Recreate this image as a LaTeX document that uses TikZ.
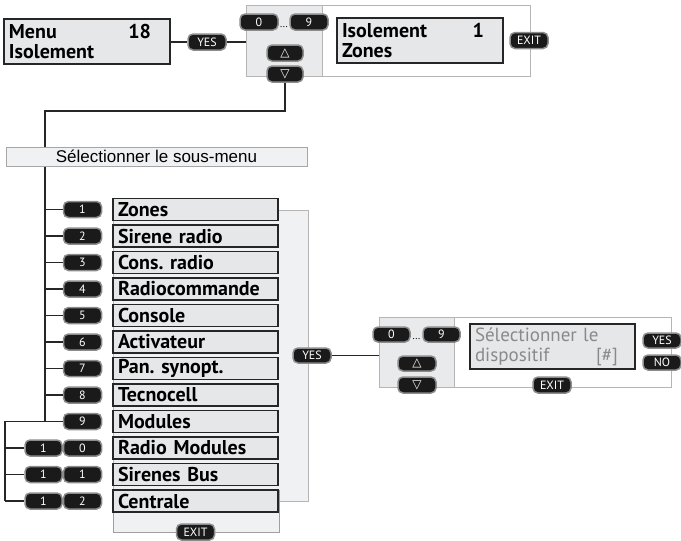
\documentclass[tikz,border=0pt]{standalone}
\usepackage{fontspec}
\setmainfont{PT Sans}
\newfontfamily\arialfont{Liberation Sans}
\newfontfamily\dejavu{DejaVu Sans}
\usetikzlibrary{positioning, calc}
\definecolor{lcdgray}{HTML}{E6E7E8}
\definecolor{padgray}{HTML}{E9EAEB}
\definecolor{panelgray}{HTML}{F0F1F2}
\definecolor{framegray}{HTML}{B5B5B5}
\definecolor{keyblack}{HTML}{1A1A1A}
\definecolor{ringgray}{HTML}{8C8C8C}
\definecolor{hintgray}{HTML}{8A8A8A}
\newcommand{\gap}{\hskip 0pt plus 1filll}
\frenchspacing
\tikzset{
  lcd/.style={draw=black!85, fill=lcdgray, line width=1.2pt, minimum height=45pt,
    text width=156pt, inner xsep=5pt, inner ysep=0pt, align=left,
    font=\fontsize{20}{20}\selectfont\bfseries},
  item/.style={draw=black!85, fill=lcdgray, line width=1.2pt, minimum height=22pt,
    text width=155pt, inner xsep=5pt, inner ysep=0pt, align=left,
    font=\fontsize{20}{20}\selectfont\bfseries},
  key/.style={draw=ringgray, fill=keyblack, line width=1.5pt, rounded corners=5pt,
    minimum width=38pt, minimum height=16pt, inner sep=0pt, text=white,
    font=\fontsize{12}{12}\selectfont},
  panel/.style={draw=framegray, line width=1pt, inner sep=0pt},
  wire/.style={draw=black!85, line width=1.5pt},
}
\begin{document}
\begin{tikzpicture}[x=1pt, y=-1pt]
    \useasboundingbox (0,0) rectangle (681,541);

    % Top row
    \node[lcd] (menu) at (87,41.5) {Menu\gap 18\kern14pt\\Isolement};
    \node[key] (yesA) at (207,42) {YES};
    \node[panel, fill=padgray, minimum width=76pt, minimum height=71pt] (padA) at (284,40.5) {};
    \node[panel, fill=white, minimum width=208pt, minimum height=71pt] (scrA) at (426,40.5) {};
    \node[key] (zeroA) at (259,22) {0};
    \node[key] (nineA) at (309,22) {9};
    \node[inner sep=0pt, font=\fontsize{10}{10}\selectfont] (dotsA) at (284,27) {...};
    \node[key, minimum width=36pt] (upA) at (285,53) {\dejavu △};
    \node[key, minimum width=36pt] (downA) at (285,74) {\dejavu ▽};
    \node[lcd] (isol) at (420,40.5) {Isolement\gap 1\kern14pt\\Zones};
    \node[key] (exitA) at (529,40.5) {EXIT};
    \draw[wire] (menu.east |- yesA.west) -- (yesA.west);
    \draw[wire] (yesA.east) -- (yesA.east -| padA.west);

    % Sub-menu title
    \node[panel, draw=gray!70, fill=panelgray, minimum width=301pt, minimum height=19pt,
      font=\arialfont\fontsize{17}{17}\selectfont] (bar) at (156.5,156.5) {Sélectionner le sous-menu};
    \coordinate (bend) at (45,111);
    \draw[wire] (downA.south) |- (bend) -- (bend |- bar.north);

    % List
    \node[panel, fill=panelgray, minimum width=195pt, minimum height=291pt] (listpanel) at (210.5,355.5) {};
    \node[panel, draw=gray!75, fill=panelgray, minimum width=166pt, minimum height=42pt] (listfoot) at (196,511) {};
    \foreach \i/\txt in {1/Zones, 2/Sirene radio, 3/Cons. radio, 4/Radiocommande,
        5/Console, 6/Activateur, 7/Pan. synopt., 8/Tecnocell, 9/Modules,
        10/Radio Modules, 11/Sirenes Bus, 12/Centrale}
        \node[item] (row\i) at (195.5,{209.5+26.5*(\i-1)}) {\txt};
    \node[key] (exitC) at (195.5,532) {EXIT};

    % Keys
    \foreach \i in {1,...,9}
        \node[key] (key\i) at (82.5,{209.5+26.5*(\i-1)}) {\i};
    \foreach \i/\d in {10/0, 11/1, 12/2} {
        \node[key] (key\i) at (82.5,{209.5+26.5*(\i-1)}) {\d};
        \node[key, minimum width=37pt] (keya\i) at (43.5,{209.5+26.5*(\i-1)}) {1};
    }

    % Connectors
    \coordinate (trunkbot) at (45,421.5);
    \coordinate (trunkleft) at (5,421.5);
    \draw[wire] (bar.south -| trunkbot) -- (trunkbot) -- (trunkleft) -- (trunkleft |- keya12.west);
    \foreach \i in {1,...,9}
        \draw[wire] (key\i.west -| trunkbot) -- (key\i.west);
    \foreach \i in {10,11,12}
        \draw[wire] (keya\i.west -| trunkleft) -- (keya\i.west);

    % Device selection
    \node[key, minimum height=15pt] (yesB) at (312,355.5) {YES};
    \node[panel, fill=padgray, minimum width=75pt, minimum height=70pt] (padB) at (416.5,352) {};
    \node[panel, fill=white, minimum width=217pt, minimum height=70pt] (scrB) at (562.5,352) {};
    \draw[wire] (yesB.east) -- (yesB.east -| padB.west);
    \node[key, minimum width=37pt, minimum height=15pt] (zeroB) at (391.5,334.5) {0};
    \node[key, minimum width=37pt, minimum height=15pt] (nineB) at (441.5,334.5) {9};
    \node[inner sep=0pt, font=\fontsize{10}{10}\selectfont] (dotsB) at (416.5,339) {...};
    \node[key, minimum height=15pt] (upB) at (417,363.5) {\dejavu △};
    \node[key] (downB) at (417,385) {\dejavu ▽};
    \node[lcd, text width=155pt, font=\fontsize{19}{20}\selectfont, text=hintgray] (disp) at (552.5,346.5)
        {Sélectionner le\\dispositif\gap[\#]\kern12pt};
    \node[key, minimum height=15pt] (yesC) at (662,340.5) {YES};
    \node[key, minimum height=15pt] (noC) at (662,362.5) {NO};
    \node[key] (exitB) at (552,385) {EXIT};
\end{tikzpicture}
\end{document}
